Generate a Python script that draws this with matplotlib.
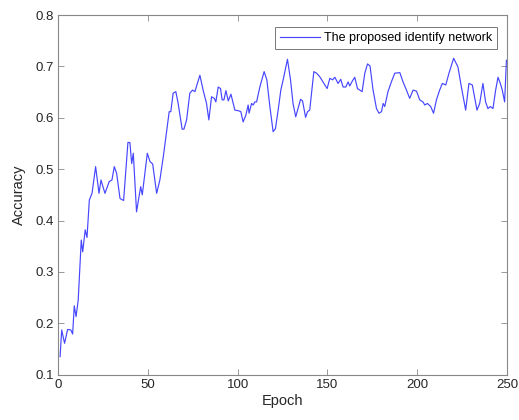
import matplotlib
matplotlib.use('Agg')
import matplotlib.pyplot as plt

plt.rcParams['font.family'] = ['Liberation Sans', 'DejaVu Sans']

# values
epoch = [1, 1.9, 3.5, 5.2, 7, 8, 8.9, 9.9, 11.1, 12.8, 13.6, 15, 16, 17.3, 18.8,
         20.8, 22.7, 23.8, 26, 28.4, 29.9, 31.2, 32.5, 34.4, 36.4, 38.8, 39.9,
         40.9, 41.8, 43.6, 45.9, 46.8, 49.6, 51.1, 52.6, 54.8, 56.6, 58.5, 61.8,
         62.7, 64, 65.5, 66.8, 69, 70, 71.5, 73.3, 74.8, 76.1, 78.9, 80.7, 82.6,
         83.9, 85.4, 86.9, 87.8, 89.1, 90.4, 91.3, 92.3, 93.4, 94.7, 96.2, 98.4,
         100.2, 101.7, 103, 104.5, 105.8, 106.3, 107.7, 108.6, 109.5, 110.5,
         112.3, 114.7, 116.2, 117.9, 119.7, 121, 122.5, 124, 125.3, 127.7, 129.4,
         130.8, 132.3, 133.6, 135, 136.1, 137.8, 138.9, 140.1, 142.4, 143.9,
         145.7, 147.5, 149.8, 151.3, 152.8, 154.1, 155.9, 157.4, 158.7, 160.2,
         161.5, 162.4, 163.9, 165.2, 166.7, 168, 169.3, 170.8, 172.3, 173.7,
         175.4, 177.3, 178.7, 180.1, 181, 181.9, 183.7, 185.6, 187.5, 190.3,
         192.1, 194, 195.8, 197.7, 199.6, 201.4, 203.2, 204.2, 205.7, 207.5,
         209.1, 210.7, 212.5, 214, 215.9, 217.7, 220.3, 222.7, 224.6, 227, 228.8,
         230.7, 233.3, 234.8, 236.6, 238.1, 239.4, 240.7, 242.2, 243.7, 245,
         246.3, 247.4, 248.7, 249.7]
accuracy = [0.135, 0.187, 0.161, 0.188, 0.187, 0.179, 0.234, 0.213, 0.245, 0.362,
            0.339, 0.382, 0.367, 0.44, 0.453, 0.505, 0.453, 0.479, 0.453, 0.476,
            0.479, 0.505, 0.492, 0.443, 0.439, 0.552, 0.552, 0.511, 0.531, 0.417,
            0.466, 0.45, 0.531, 0.515, 0.51, 0.453, 0.479, 0.524, 0.612, 0.612,
            0.648, 0.651, 0.628, 0.578, 0.578, 0.596, 0.648, 0.654, 0.651, 0.683,
            0.654, 0.628, 0.596, 0.641, 0.638, 0.631, 0.66, 0.657, 0.635, 0.635,
            0.653, 0.633, 0.646, 0.615, 0.614, 0.612, 0.592, 0.605, 0.625, 0.609,
            0.628, 0.625, 0.631, 0.631, 0.66, 0.69, 0.674, 0.622, 0.573, 0.579,
            0.615, 0.654, 0.674, 0.714, 0.674, 0.628, 0.602, 0.618, 0.636, 0.633,
            0.601, 0.612, 0.615, 0.69, 0.687, 0.68, 0.67, 0.657, 0.677, 0.674,
            0.679, 0.667, 0.675, 0.66, 0.66, 0.67, 0.662, 0.672, 0.679, 0.657,
            0.654, 0.651, 0.687, 0.705, 0.701, 0.654, 0.618, 0.609, 0.612, 0.628,
            0.622, 0.651, 0.67, 0.687, 0.688, 0.67, 0.654, 0.638, 0.654, 0.652,
            0.635, 0.631, 0.625, 0.628, 0.622, 0.609, 0.635, 0.654, 0.667, 0.664,
            0.687, 0.716, 0.699, 0.66, 0.615, 0.667, 0.664, 0.615, 0.628, 0.667,
            0.631, 0.618, 0.622, 0.618, 0.654, 0.679, 0.667, 0.654, 0.631, 0.712]

fig = plt.figure(figsize=(5.19, 4.2), dpi=100)
ax = fig.add_axes([0.1123, 0.108, 0.8645, 0.856])

ax.plot(epoch, accuracy, color='#4646ff', lw=0.85, label='The proposed identify network')

ax.set_xlim(0, 250)
ax.set_ylim(0.1, 0.8)
ax.set_xticks([0, 50, 100, 150, 200, 250])
ax.set_yticks([0.1, 0.2, 0.3, 0.4, 0.5, 0.6, 0.7, 0.8])
ax.set_yticklabels(['0.1', '0.2', '0.3', '0.4', '0.5', '0.6', '0.7', '0.8'])
ax.tick_params(direction='in', top=True, right=True, length=4, width=0.6,
               color='#888888', labelsize=9.5, labelcolor='#262626', pad=3)
for s in ax.spines.values():
    s.set_color('#888888')
    s.set_linewidth(0.8)

ax.set_xlabel('Epoch', fontsize=10.5, color='#262626', labelpad=2)
ax.set_ylabel('Accuracy', fontsize=10.5, color='#262626', labelpad=7)

leg = ax.legend(loc='upper right', bbox_to_anchor=(0.978, 0.967), borderaxespad=0,
                fancybox=False, framealpha=1, edgecolor='#777777', fontsize=9,
                handlelength=3.2, handletextpad=0.3, borderpad=0.4)
leg.get_frame().set_linewidth(0.7)

fig.savefig('out.png', dpi=100)
